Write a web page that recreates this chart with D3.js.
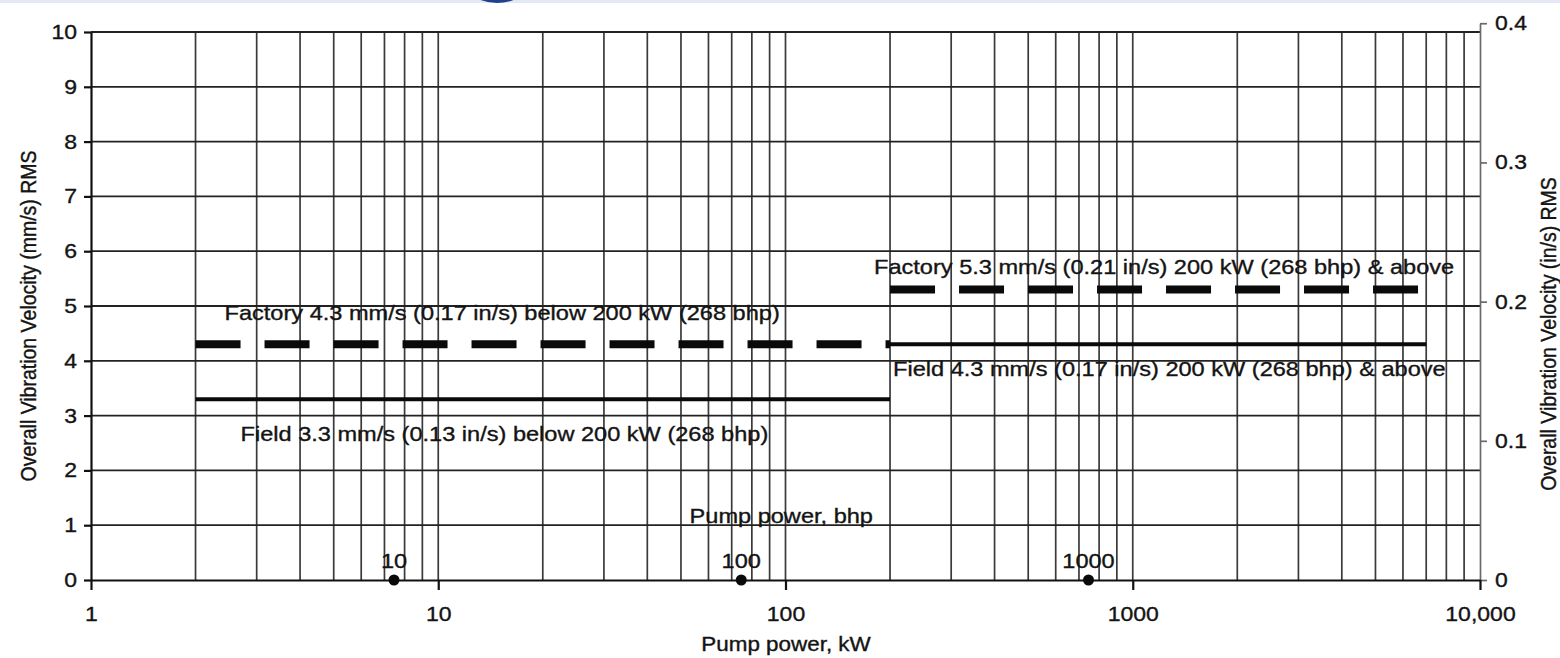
<!DOCTYPE html>
<html>
<head>
<meta charset="utf-8">
<script src="https://cdn.jsdelivr.net/npm/d3@7"></script>
<style>
    body { margin: 0; background: #fff; }
    svg { display: block; font-family: "Liberation Sans", Arial, Helvetica, sans-serif; fill: #141414; }
    text { stroke: #141414; stroke-width: 0.35px; }
    .grid-v line { stroke: #3a3a3a; stroke-width: 1.7; }
    .grid-h line { stroke: #222; stroke-width: 1.8; }
    .axis path, .axis line { stroke: #111; stroke-width: 2.2; }
    .axis.right path, .axis.right line { stroke: #6a6a6a; stroke-width: 1.7; }
    .axis text { font-size: 20px; fill: #141414; }
    .limit { fill: none; stroke: #0a0a0a; }
    .note { font-size: 20.5px; }
    .title { font-size: 19.5px; }
</style>
</head>
<body>
<svg id="chart" width="1560" height="658"></svg>
<script>
// values
const kwTicks = [1, 10, 100, 1000, 10000];
const kwTickLabels = ["1", "10", "100", "1000", "10,000"];
const mmsTicks = [0, 1, 2, 3, 4, 5, 6, 7, 8, 9, 10];
const inTicks = [0, 0.1, 0.2, 0.3, 0.4];
const inTickLabels = ["0", "0.1", "0.2", "0.3", "0.4"];
const bhpTicks = [10, 100, 1000];
const KW_PER_BHP = 0.7457;
const MM_PER_IN = 25.4;

const limitLabels = [
    "Factory 4.3 mm/s (0.17 in/s) below 200 kW (268 bhp)",
    "Field 3.3 mm/s (0.13 in/s) below 200 kW (268 bhp)",
    "Factory 5.3 mm/s (0.21 in/s) 200 kW (268 bhp) & above",
    "Field 4.3 mm/s (0.17 in/s) 200 kW (268 bhp) & above"
];
const limitFrom = [2, 2, 200, 200];
const limitTo = [200, 200, 7000, 7000];
const limitMms = [4.3, 3.3, 5.3, 4.3];
const limitKind = ["factory", "field", "factory", "field"];

// the scan is a bit wider than tall, so text gets stretched horizontally
const SX = 1.15;

const svg = d3.select("#chart");

// scan edge at the top
svg.append("rect").attr("x", 0).attr("y", 0).attr("width", 1560).attr("height", 3).attr("fill", "#e4e8f4");
svg.append("circle").attr("cx", 497).attr("cy", -44).attr("r", 47).attr("fill", "#1f3f8f");

const x = d3.scaleLog().domain([1, 10000]).range([91, 1480]);
const y = d3.scaleLinear().domain([0, 10]).range([580, 32]);
const yIn = d3.scaleLinear().domain([0, 0.4]).range([y(0), y(0.4 * MM_PER_IN)]);

function stretch(sel) {
    sel.each(function () {
        const t = d3.select(this);
        const tx = +t.attr("x") || 0;
        t.attr("x", 0).attr("transform", "translate(" + tx + ",0) scale(" + SX + ",1)");
    });
}

// grid
const gridX = x.ticks().filter(v => v > 1.5 && v < 9999);
svg.append("g").attr("class", "grid-v")
    .selectAll("line").data(gridX).join("line")
    .attr("x1", d => x(d)).attr("x2", d => x(d))
    .attr("y1", y(0)).attr("y2", y(10));

svg.append("g").attr("class", "grid-h")
    .selectAll("line").data(mmsTicks.filter(v => v > 0)).join("line")
    .attr("x1", x(1)).attr("x2", x(10000))
    .attr("y1", d => y(d)).attr("y2", d => y(d));

// axes
const rightAxis = svg.append("g").attr("class", "axis right")
    .attr("transform", "translate(" + x(10000) + ",0)")
    .call(d3.axisRight(yIn).tickValues(inTicks).tickFormat((d, i) => inTickLabels[i])
        .tickSize(7).tickSizeOuter(0).tickPadding(8));
rightAxis.selectAll("text").call(stretch);

const leftAxis = svg.append("g").attr("class", "axis left")
    .attr("transform", "translate(" + x(1) + ",0)")
    .call(d3.axisLeft(y).tickValues(mmsTicks).tickSize(7).tickSizeOuter(0).tickPadding(7));
leftAxis.selectAll("text").call(stretch);

const bottomAxis = svg.append("g").attr("class", "axis bottom")
    .attr("transform", "translate(0," + y(0) + ")")
    .call(d3.axisBottom(x).tickValues(kwTicks).tickFormat((d, i) => kwTickLabels[i])
        .tickSize(10).tickSizeOuter(0).tickPadding(17));
bottomAxis.selectAll("text").call(stretch);

// limit lines
const idx = d3.range(limitMms.length);
svg.append("g").selectAll("line").data(idx).join("line")
    .attr("class", "limit")
    .attr("x1", i => x(limitFrom[i])).attr("x2", i => x(limitTo[i]))
    .attr("y1", i => y(limitMms[i])).attr("y2", i => y(limitMms[i]))
    .attr("stroke-width", i => limitKind[i] == "factory" ? 8 : 4)
    .attr("stroke-dasharray", i => limitKind[i] == "factory" ? "45,24" : null);

const labelOffset = [[29, -24], [45, 42], [-16, -16], [3, 32]];
svg.append("g").selectAll("text").data(idx).join("text")
    .attr("class", "note")
    .attr("transform", i => "translate(" + (x(limitFrom[i]) + labelOffset[i][0]) + ","
        + (y(limitMms[i]) + labelOffset[i][1]) + ") scale(" + SX + ",1)")
    .text(i => limitLabels[i]);

// secondary bhp scale on the zero line
const bhp = svg.append("g");
bhp.selectAll("circle").data(bhpTicks).join("circle")
    .attr("cx", d => x(d * KW_PER_BHP)).attr("cy", y(0)).attr("r", 5.5)
    .attr("fill", "#0a0a0a");
bhp.selectAll("text").data(bhpTicks).join("text")
    .attr("class", "note")
    .attr("text-anchor", "middle")
    .attr("transform", d => "translate(" + x(d * KW_PER_BHP) + "," + (y(0) - 12) + ") scale(" + SX + ",1)")
    .text(d => d);
bhp.append("text")
    .attr("class", "note")
    .attr("text-anchor", "middle")
    .attr("transform", "translate(" + (x(100 * KW_PER_BHP) + 40) + "," + (y(1) - 2) + ") scale(" + SX + ",1)")
    .text("Pump power, bhp");

// titles
svg.append("text").attr("class", "title")
    .attr("text-anchor", "middle")
    .attr("transform", "translate(786,651) scale(" + SX + ",1)")
    .text("Pump power, kW");

svg.append("text").attr("class", "title")
    .attr("text-anchor", "middle")
    .attr("transform", "translate(36,316) scale(" + SX + ",1) rotate(-90)")
    .text("Overall Vibration Velocity (mm/s) RMS");

svg.append("text").attr("class", "title")
    .attr("text-anchor", "middle")
    .attr("transform", "translate(1556,334) scale(" + SX + ",1) rotate(-90)")
    .text("Overall Vibration Velocity (in/s) RMS");
</script>
</body>
</html>
